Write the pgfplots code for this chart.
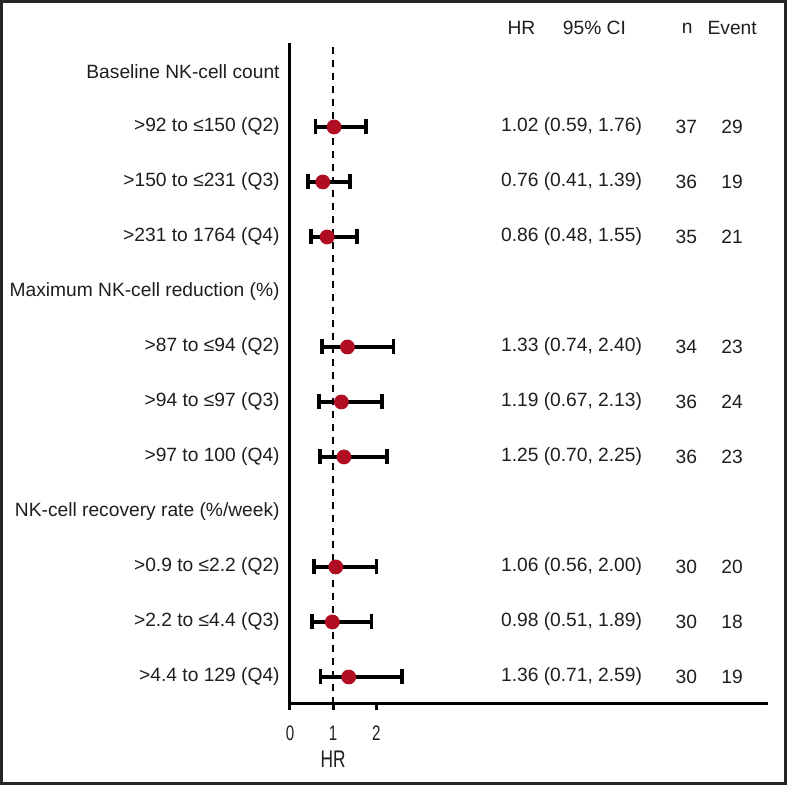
\documentclass[border=0pt]{standalone}
\usepackage{fontspec}
\setmainfont{Liberation Sans}
\newfontfamily\condfont[FakeStretch=0.72]{Liberation Sans}
\usepackage{pgfplots}
\usepackage{pgfplotstable}
\pgfplotsset{compat=1.18}
\definecolor{nkRed}{RGB}{176,12,34}
\definecolor{txt}{RGB}{30,30,30}

% hazard ratios: row, HR, lower, upper
\pgfplotstableread{
y  hr   lo   hi
11 1.02 0.59 1.76
10 0.76 0.41 1.39
9  0.86 0.48 1.55
7  1.33 0.74 2.40
6  1.19 0.67 2.13
5  1.25 0.70 2.25
3  1.06 0.56 2.00
2  0.98 0.51 1.89
1  1.36 0.71 2.59
}\hrdata

\tikzset{lbl/.style={font=\fontsize{9.6}{11.5}\selectfont,text=txt,inner sep=0pt}}

\begin{document}
\begin{tikzpicture}
\useasboundingbox (0,0) rectangle (393.5pt,392.5pt);
\begin{axis}[
  at={(145pt,40.5pt)},anchor=south west,
  scale only axis,width=239pt,height=330.5pt,
  xmin=0,xmax=11.07,ymin=0.509,ymax=12.527,
  axis x line=bottom,axis y line=left,
  axis line style={line width=1.5pt,-},
  xtick={0,1,2},ytick=\empty,
  tick align=outside,major tick length=3pt,
  x tick style={line width=1.5pt,black},
  tick label style={font=\condfont\fontsize{10.5}{12}\selectfont,text=txt},
  xticklabel style={anchor=center,yshift=-11.5pt,inner sep=0pt},
  /pgf/number format/assume math mode=true,
  clip=false
]
% reference line at HR = 1
\addplot[black,line width=1.25pt,dash pattern=on 3.5pt off 3pt] coordinates {(1,0.509)(1,12.527)};
% confidence intervals
\addplot[draw=none,mark=none,
  error bars/.cd,x dir=both,x explicit,
  error bar style={black,line width=1.8pt},
  error mark options={black,line width=1.8pt,mark size=3.75pt,rotate=90}]
  table[x=hr,y=y,
    x error plus expr=\thisrow{hi}-\thisrow{hr},
    x error minus expr=\thisrow{hr}-\thisrow{lo}] {\hrdata};
% point estimates
\addplot[only marks,mark=*,mark size=3.5pt,color=nkRed] table[x=hr,y=y] {\hrdata};

% column headers
\node[lbl] at (axis cs:5.36,12.8) {HR};
\node[lbl] at (axis cs:7.05,12.8) {95\% CI};
\node[lbl] at (axis cs:9.2,12.8) {n};
\node[lbl] at (axis cs:10.24,12.8) {Event};

% row labels
\node[lbl,anchor=east,xshift=-5pt] at (axis cs:0,12) {Baseline NK-cell count};
\node[lbl,anchor=east,xshift=-5pt] at (axis cs:0,11) {>92 to ≤150 (Q2)};
\node[lbl,anchor=east,xshift=-5pt] at (axis cs:0,10) {>150 to ≤231 (Q3)};
\node[lbl,anchor=east,xshift=-5pt] at (axis cs:0,9) {>231 to 1764 (Q4)};
\node[lbl,anchor=east,xshift=-5pt] at (axis cs:0,8) {Maximum NK-cell reduction (\%)};
\node[lbl,anchor=east,xshift=-5pt] at (axis cs:0,7) {>87 to ≤94 (Q2)};
\node[lbl,anchor=east,xshift=-5pt] at (axis cs:0,6) {>94 to ≤97 (Q3)};
\node[lbl,anchor=east,xshift=-5pt] at (axis cs:0,5) {>97 to 100 (Q4)};
\node[lbl,anchor=east,xshift=-5pt] at (axis cs:0,4) {NK-cell recovery rate (\%/week)};
\node[lbl,anchor=east,xshift=-5pt] at (axis cs:0,3) {>0.9 to ≤2.2 (Q2)};
\node[lbl,anchor=east,xshift=-5pt] at (axis cs:0,2) {>2.2 to ≤4.4 (Q3)};
\node[lbl,anchor=east,xshift=-5pt] at (axis cs:0,1) {>4.4 to 129 (Q4)};

% HR (95% CI), n, events
\node[lbl,anchor=west] at (axis cs:4.88,11) {1.02 (0.59, 1.76)};
\node[lbl,anchor=west] at (axis cs:4.88,10) {0.76 (0.41, 1.39)};
\node[lbl,anchor=west] at (axis cs:4.88,9) {0.86 (0.48, 1.55)};
\node[lbl,anchor=west] at (axis cs:4.88,7) {1.33 (0.74, 2.40)};
\node[lbl,anchor=west] at (axis cs:4.88,6) {1.19 (0.67, 2.13)};
\node[lbl,anchor=west] at (axis cs:4.88,5) {1.25 (0.70, 2.25)};
\node[lbl,anchor=west] at (axis cs:4.88,3) {1.06 (0.56, 2.00)};
\node[lbl,anchor=west] at (axis cs:4.88,2) {0.98 (0.51, 1.89)};
\node[lbl,anchor=west] at (axis cs:4.88,1) {1.36 (0.71, 2.59)};
\node[lbl] at (axis cs:9.18,11) {37}; \node[lbl] at (axis cs:10.24,11) {29};
\node[lbl] at (axis cs:9.18,10) {36}; \node[lbl] at (axis cs:10.24,10) {19};
\node[lbl] at (axis cs:9.18,9)  {35}; \node[lbl] at (axis cs:10.24,9)  {21};
\node[lbl] at (axis cs:9.18,7)  {34}; \node[lbl] at (axis cs:10.24,7)  {23};
\node[lbl] at (axis cs:9.18,6)  {36}; \node[lbl] at (axis cs:10.24,6)  {24};
\node[lbl] at (axis cs:9.18,5)  {36}; \node[lbl] at (axis cs:10.24,5)  {23};
\node[lbl] at (axis cs:9.18,3)  {30}; \node[lbl] at (axis cs:10.24,3)  {20};
\node[lbl] at (axis cs:9.18,2)  {30}; \node[lbl] at (axis cs:10.24,2)  {18};
\node[lbl] at (axis cs:9.18,1)  {30}; \node[lbl] at (axis cs:10.24,1)  {19};

% x label sits under the reference line
\node[font=\condfont\fontsize{12}{14}\selectfont,text=txt,inner sep=0pt] at (axis cs:1,-0.49) {HR};
\end{axis}
\draw[line width=1.5pt,black!85] (0.75pt,0.75pt) rectangle (392.75pt,391.75pt);
\end{tikzpicture}
\end{document}
